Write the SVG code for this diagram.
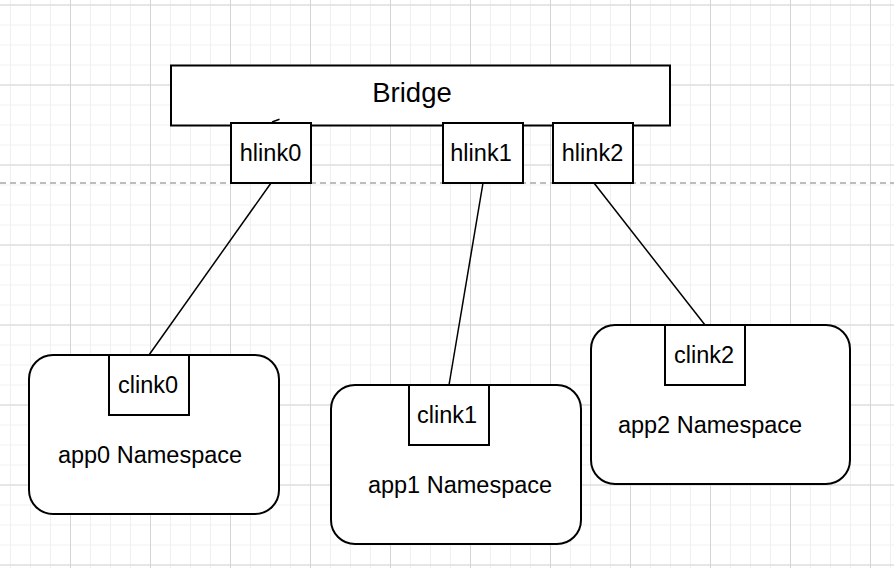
<svg xmlns="http://www.w3.org/2000/svg" width="894" height="568" viewBox="0 0 894 568">
<defs>
<pattern id="minor" x="10" y="4.5" width="20" height="20" patternUnits="userSpaceOnUse">
<path d="M0.5 0V20M0 0.5H20" fill="none" stroke="#f0f0f0" stroke-width="1"/>
</pattern>
<pattern id="major" x="70" y="4.5" width="80" height="80" patternUnits="userSpaceOnUse">
<path d="M0.5 0V80M0 0.5H80" fill="none" stroke="#d4d4d4" stroke-width="1"/>
</pattern>
</defs>
<style>
.box{fill:#fff;stroke:#000;stroke-width:2}
.t{font-family:"Liberation Sans",Arial,Helvetica,sans-serif;font-size:23.5px;fill:#000;text-anchor:middle}
.big{font-size:27.5px}
.edge{stroke:#000;stroke-width:1.5;fill:none}
</style>
<rect width="894" height="568" fill="#fff"/>
<rect width="894" height="568" fill="url(#minor)"/>
<rect width="894" height="568" fill="url(#major)"/>
<line x1="0" y1="183" x2="894" y2="183" stroke="#bdbdbd" stroke-width="2" stroke-dasharray="6 4"/>
<g id="edges">
<line class="edge" x1="271" y1="183" x2="149" y2="355"/>
<line class="edge" x1="483" y1="183" x2="449" y2="385"/>
<line class="edge" x1="594" y1="183" x2="705" y2="325"/>
</g>
<g id="bridge">
<rect class="box" x="171" y="65.5" width="499" height="60"/>
<text class="t big" x="412" y="102">Bridge</text>
<line x1="272" y1="122" x2="279.5" y2="119.3" stroke="#000" stroke-width="1.5"/>
</g>
<g id="hlink0">
<rect class="box" x="231" y="123" width="80" height="60"/>
<text class="t" x="270.5" y="161">hlink0</text>
</g>
<g id="hlink1">
<rect class="box" x="443" y="123" width="80" height="60"/>
<text class="t" x="481" y="161">hlink1</text>
</g>
<g id="hlink2">
<rect class="box" x="553" y="123" width="80" height="60"/>
<text class="t" x="592.5" y="161">hlink2</text>
</g>
<g id="app0">
<rect class="box" x="29" y="355" width="250" height="159" rx="24" ry="24"/>
<text class="t" x="150" y="463">app0 Namespace</text>
</g>
<g id="clink0">
<rect class="box" x="109" y="355" width="80" height="60"/>
<text class="t" x="148" y="393">clink0</text>
</g>
<g id="app1">
<rect class="box" x="331" y="385" width="250" height="159" rx="24" ry="24"/>
<text class="t" x="460" y="493">app1 Namespace</text>
</g>
<g id="clink1">
<rect class="box" x="409" y="385" width="80" height="60"/>
<text class="t" x="447" y="423">clink1</text>
</g>
<g id="app2">
<rect class="box" x="591" y="325" width="259" height="159" rx="24" ry="24"/>
<text class="t" x="710" y="433">app2 Namespace</text>
</g>
<g id="clink2">
<rect class="box" x="665" y="325" width="80" height="60"/>
<text class="t" x="704" y="363">clink2</text>
</g>
</svg>
